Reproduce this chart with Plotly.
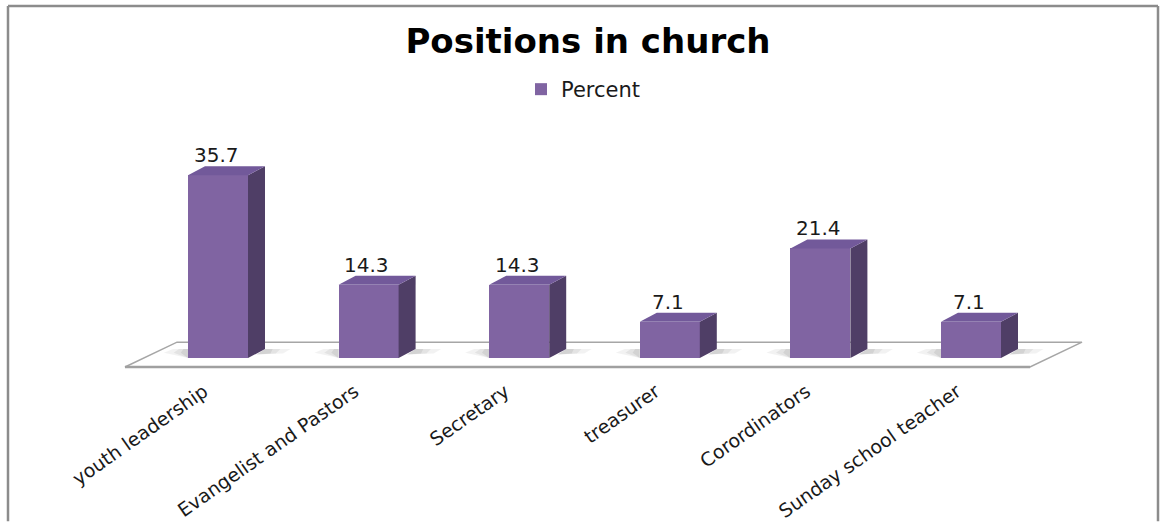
import plotly.graph_objects as go

# Survey result: share of respondents by position held in church
categories = ["youth leadership", "Evangelist and Pastors", "Secretary",
              "treasurer", "Corordinators", "Sunday school teacher"]
percent = [35.7, 14.3, 14.3, 7.1, 21.4, 7.1]
series_name = "Percent"

W, H = 1161, 522
PLOT_H = 372                 # height of the plotting area (ticks hang below)
PX_PER_CAT = 150.6           # horizontal pixels per category slot
PX_PER_UNIT = 5.15           # vertical pixels per percent point
BASE_PX = 360                # pixel row of the bar bases

x0 = -218 / PX_PER_CAT
y0 = -(PLOT_H - BASE_PX) / PX_PER_UNIT

FRONT = "#8064A2"
SIDE = "#4F3E66"
TOP = "#72599A"

bar_w = 60 / PX_PER_CAT
dx = 17 / PX_PER_CAT          # depth offset (x) of the 3-D extrusion
dy = 9 / PX_PER_UNIT          # depth offset (y) of the 3-D extrusion

xs = list(range(len(categories)))

fig = go.Figure()
fig.add_trace(go.Bar(
    x=xs, y=percent, width=bar_w, name=series_name,
    marker=dict(color=FRONT, line=dict(width=0)),
    showlegend=True, hoverinfo="skip",
))

shapes = []

# floor plane of the 3-D chart
fl_front, fl_back = -9 / PX_PER_UNIT, 16 / PX_PER_UNIT
fl_left, fl_right = (125 - 218) / PX_PER_CAT, (1030 - 218) / PX_PER_CAT
fl_shift = 52 / PX_PER_CAT
shapes.append(dict(
    type="path", xref="x", yref="y", layer="below",
    path=(f"M {fl_left},{fl_front} L {fl_right},{fl_front} "
          f"L {fl_right + fl_shift},{fl_back} L {fl_left + fl_shift},{fl_back} Z"),
    fillcolor="white", line=dict(color="#A6A6A6", width=1.5),
))
# heavier front edge of the floor
shapes.append(dict(
    type="line", xref="x", yref="y", layer="below",
    x0=fl_left, x1=fl_right, y0=fl_front, y1=fl_front,
    line=dict(color="#A0A0A0", width=2.5),
))

for x, v in zip(xs, percent):
    l, r = x - bar_w / 2, x + bar_w / 2
    # soft shadows cast on the floor, layered for a faded edge
    for k, a in ((1.0, 0.05), (0.6, 0.06), (0.3, 0.07)):
        shapes.append(dict(
            type="path", xref="x", yref="y", layer="below",
            path=(f"M {l - 0.16 * k},{dy * 0.6} L {l},{0} L {l},{dy * 1.0} "
                  f"L {l - 0.10 * k},{dy * 1.0} Z"),
            fillcolor=f"rgba(0,0,0,{a})", line=dict(width=0),
        ))
        shapes.append(dict(
            type="path", xref="x", yref="y", layer="below",
            path=(f"M {r + dx},{dy} L {r + dx + 0.17 * k},{dy} "
                  f"L {r + dx + 0.12 * k},{dy * 0.5} L {r + dx * 0.5},{dy * 0.4} Z"),
            fillcolor=f"rgba(0,0,0,{a})", line=dict(width=0),
        ))
    # right-hand side face
    shapes.append(dict(
        type="path", xref="x", yref="y", layer="above",
        path=f"M {r},0 L {r + dx},{dy} L {r + dx},{v + dy} L {r},{v} Z",
        fillcolor=SIDE, line=dict(width=0),
    ))
    # top face
    shapes.append(dict(
        type="path", xref="x", yref="y", layer="above",
        path=f"M {l},{v} L {l + dx},{v + dy} L {r + dx},{v + dy} L {r},{v} Z",
        fillcolor=TOP, line=dict(width=0),
    ))

# chart frame
def px_x(p):
    return p / W

def px_y(p):
    return (PLOT_H - p) / PLOT_H

frame = dict(color="#8C8C8C", width=2.5)
shapes += [
    dict(type="line", xref="paper", yref="paper", x0=px_x(8), x1=px_x(1158),
         y0=px_y(6), y1=px_y(6), line=frame),
    dict(type="line", xref="paper", yref="paper", x0=px_x(8), x1=px_x(8),
         y0=px_y(6), y1=px_y(H + 2), line=frame),
    dict(type="line", xref="paper", yref="paper", x0=px_x(1158), x1=px_x(1158),
         y0=px_y(6), y1=px_y(H + 2), line=frame),
]

annotations = [
    dict(x=x, y=v, xref="x", yref="y", text=f"{v}", showarrow=False,
         yanchor="middle", yshift=20, xshift=-2,
         font=dict(family="DejaVu Sans", size=20, color="#1a1a1a"))
    for x, v in zip(xs, percent)
]

fig.update_layout(
    width=W, height=H,
    margin=dict(l=0, r=0, t=0, b=H - PLOT_H, pad=0),
    paper_bgcolor="white", plot_bgcolor="white",
    title=dict(text="<b>Positions in church</b>", x=588 / W, xref="container",
               xanchor="center", y=1 - 41 / H, yref="container", yanchor="middle",
               font=dict(family="DejaVu Sans", size=34, color="black")),
    legend=dict(orientation="h", x=521 / W, xanchor="left",
                y=px_y(90), yanchor="middle",
                font=dict(family="DejaVu Sans", size=21, color="#1a1a1a"),
                bgcolor="rgba(0,0,0,0)"),
    xaxis=dict(range=[x0, x0 + W / PX_PER_CAT], tickmode="array", tickvals=xs,
               ticktext=categories, tickangle=-35, showgrid=False, zeroline=False,
               showline=False, ticks="", fixedrange=True,
               ticklabelshift=-14, ticklabelstandoff=6,
               tickfont=dict(family="DejaVu Sans", size=19, color="#1a1a1a")),
    yaxis=dict(range=[y0, y0 + PLOT_H / PX_PER_UNIT], visible=False,
               showgrid=False, zeroline=False, fixedrange=True),
    shapes=shapes, annotations=annotations, bargap=0,
)

fig.write_html("out.html")
